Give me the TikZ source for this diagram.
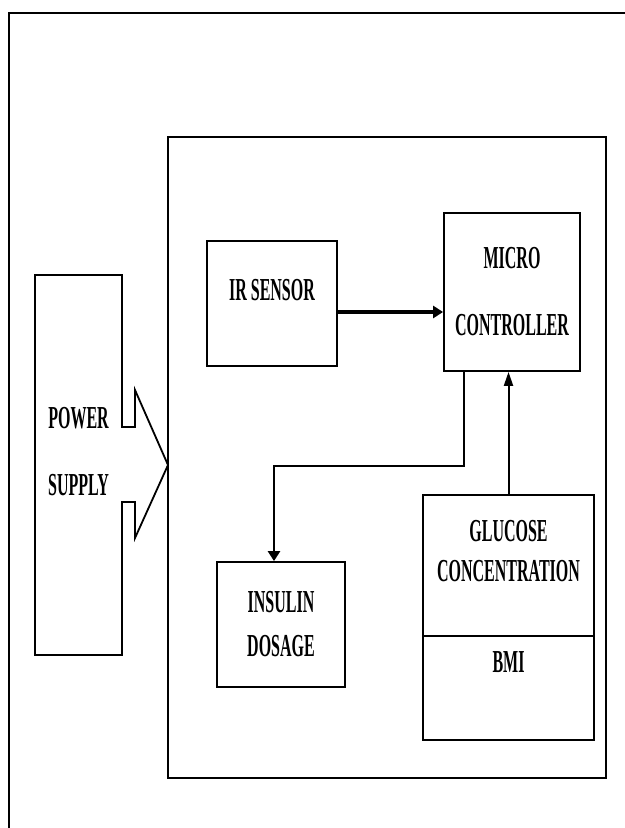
\documentclass[tikz,border=0pt]{standalone}
\usepackage{fontspec}
\newfontfamily\rotulo{Liberation Serif}[FakeStretch=0.5]
\usetikzlibrary{positioning, arrows.meta}
\tikzset{
    linea/.style={draw, line width=0.9pt},
    flecha/.style={draw, -{Triangle[length=7pt, width=4.5pt]}, line width=1pt},
    flecha_gruesa/.style={draw, -{Triangle[length=5pt, width=6pt]}, line width=1.7pt}
}

\begin{document}
\begin{tikzpicture}[
        x=0.5pt, y=-0.5pt,
        font=\rotulo\bfseries\fontsize{16}{19}\selectfont,
        % Estilo base
        base/.style={
            rectangle, draw, align=center, inner sep=0pt, line width=0.9pt
        },
        % Caja exterior (sistema)
        box_sistema/.style={
            base, minimum width=219pt, minimum height=320.5pt
        },
        % Cajas de los bloques
        box_bloque/.style={
            base, minimum width=65pt, minimum height=62.5pt
        },
        box_medida/.style={
            base, minimum width=85.5pt
        }
    ]

    \useasboundingbox (0,0) rectangle (625,828);

    % 0. Marco de la hoja
    \draw[line width=1pt] (9,828) -- (9,13) -- (625,13);

    % 1. Fuente de alimentacion (cuerpo y flecha en un solo trazo)
    \draw[linea] (35,275) -- (122,275) -- (122,427) -- (135,427) -- (135,390)
        -- (168,465) -- (135,538) -- (135,502) -- (122,502) -- (122,655)
        -- (35,655) -- cycle;
    \node[align=center] (fuente) at (78.5,451.5) {POWER\\[14.5pt]SUPPLY};

    % 2. Caja del sistema
    \node[box_sistema] (sistema) at (387,457.5) {};

    % 3. Bloques interiores
    \node[box_bloque, text height=10pt, text depth=13.5pt] (ir) at (272,303.5) {IR SENSOR};

    \node[box_bloque, minimum width=68pt, minimum height=79pt] (mc) at (512,292) {
        MICRO\\[14.5pt]CONTROLLER
    };

    \node[box_bloque, minimum width=64pt] (ins) at (281,624.5) {
        INSULIN\\[3pt]DOSAGE
    };

    \node[box_medida, minimum height=70.5pt, text height=30pt, text depth=14pt] (gluc) at (508.5,565.5) {
        GLUCOSE\\[1pt]CONCENTRATION
    };

    \node[box_medida, minimum height=52pt, text height=10pt, text depth=26pt] (bmi) at (508.5,688) {BMI};

    % --- CONEXIONES ---

    % Sensor hacia el microcontrolador
    \draw[flecha_gruesa] ([yshift=-4.25pt]ir.east) -- ([yshift=-4.25pt]ir.east -| mc.west);

    % Microcontrolador hacia la dosis de insulina, con un codo
    \coordinate (codo) at (464,466);
    \draw[flecha_gruesa, line width=1.4pt] (mc.south -| codo) -- (codo) -| ([xshift=-3.5pt]ins.north);

    % Glucosa hacia el microcontrolador
    \draw[flecha] (gluc.north) -- (gluc.north |- mc.south);

\end{tikzpicture}
\end{document}
